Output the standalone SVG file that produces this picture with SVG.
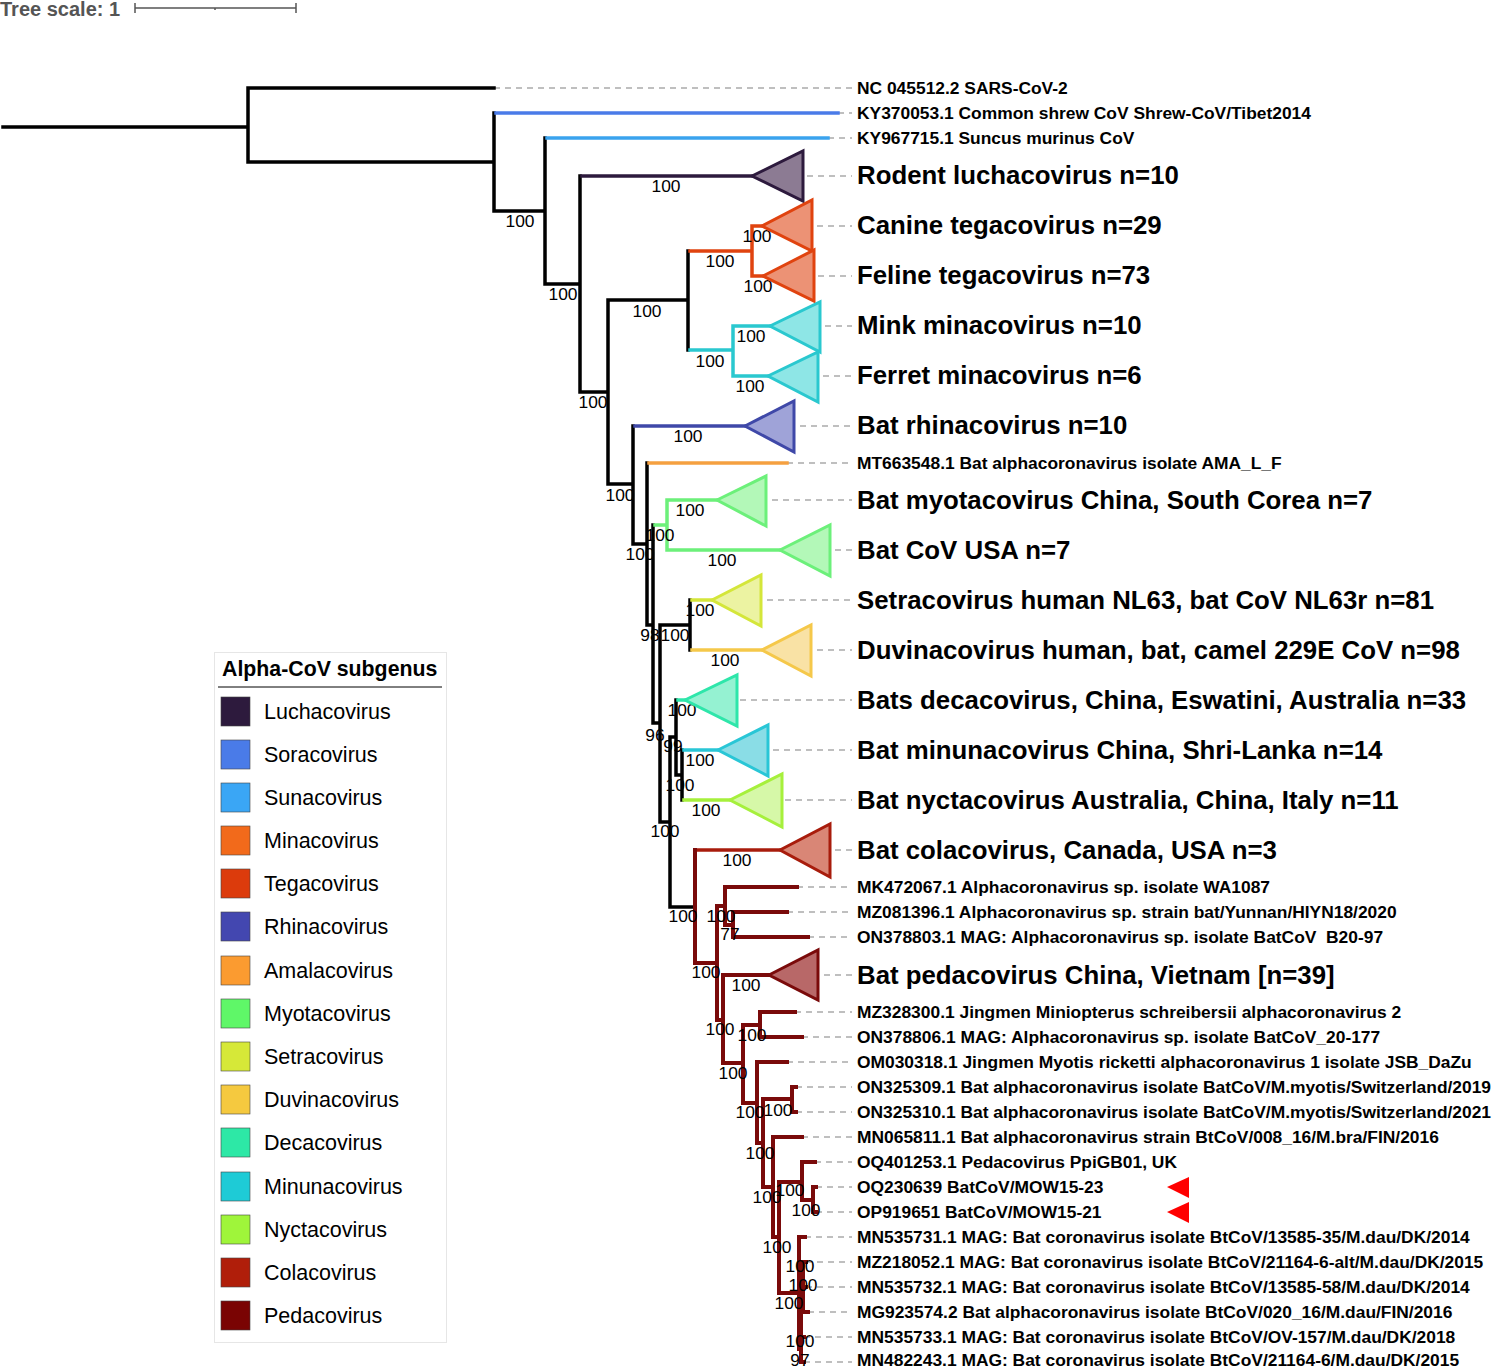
<svg xmlns="http://www.w3.org/2000/svg" width="1494" height="1368" viewBox="0 0 1494 1368">
<style>
.br{fill:none;stroke-width:3.5;stroke-linecap:square}
.k{stroke:#000}
.pd{stroke:#7a0a0a;stroke-width:4}
.dash{stroke:#aaa;stroke-width:1.5;stroke-dasharray:6 5;fill:none}
.lbl{font-family:"Liberation Sans",Arial,sans-serif;font-weight:bold;font-size:17.4px;fill:#000}
.big{font-size:25.8px}
.bs{font-family:"Liberation Sans",Arial,sans-serif;font-size:17.4px;fill:#000;text-anchor:middle}
.tri{stroke-width:3}
.lg{font-family:"Liberation Sans",Arial,sans-serif;font-size:21.5px;fill:#000}
.sq{stroke:#444;stroke-width:0.6}
</style>
<rect width="1494" height="1368" fill="#fff"/>

<g id="tree-scale">
<text x="0" y="16" font-family="Liberation Sans, Arial, sans-serif" font-weight="bold" font-size="20" fill="#555">Tree scale: 1</text>
<path d="M135,8 H296 M135,3 V13 M296,3 V13 M215,8 V10" stroke="#555" stroke-width="1.5" fill="none"/>
</g>

<g id="dashes">
<path class="dash" d="M494,88H852 M838,113H852 M828,138H852 M752,176H852 M762,226H852 M763,276H852 M770,326H852 M768,376H852 M745,426H852 M787,463H852 M717,500H852 M780,550H852 M712,600H852 M762,650H852 M685,700H852 M718,750H852 M730,800H852 M780,850H852 M797,887H852 M787,912H852 M808,937H852 M769,975H852 M795,1012H852 M802,1037H852 M787,1062H852 M796,1087H852 M796,1112H852 M802,1137H852 M815,1162H852 M816,1187H852 M816,1212H852 M805,1237H852 M806,1262H852 M806,1287H852 M808,1312H852 M804,1337H852 M804,1362H852"/>
</g>

<g id="connectors">
<path class="br k" d="M3,127H248 M248,88V162 M248,88H494 M248,162H494 M494,113V211 M494,211H545 M545,138V284 M545,284H580 M580,176V392 M580,392H608 M608,300V484 M608,300H688 M688,251V350 M608,484H633 M633,426V544 M633,544H647 M647,463V625 M647,625H653 M653,525V723 M653,723H660 M660,625V822 M660,625H690 M690,600V650 M660,822H670 M670,737V907 M670,737H676 M676,700V775 M676,775H682 M682,750V800 M670,907H693"/>
<path class="br" style="stroke:#4a7be8" d="M496,113H838"/>
<path class="br" style="stroke:#3aa3ee" d="M547,138H828"/>
<path class="br" style="stroke:#2d1a3d" d="M582,176H752"/>
<path class="br" style="stroke:#e0430f" d="M690,251H752 M752,226V276 M752,226H762 M752,276H763"/>
<path class="br" style="stroke:#2ac8cf" d="M690,350H733 M733,326V376 M733,326H770 M733,376H768"/>
<path class="br" style="stroke:#3f48a8" d="M635,426H745"/>
<path class="br" style="stroke:#f5a040" d="M649,463H787"/>
<path class="br" style="stroke:#6cf07a" d="M655,525H667 M667,500V550 M667,500H717 M667,550H780"/>
<path class="br" style="stroke:#d4e63a" d="M692,600H712"/>
<path class="br" style="stroke:#f5c84a" d="M692,650H762"/>
<path class="br" style="stroke:#2ee6aa" d="M678,700H685"/>
<path class="br" style="stroke:#29c6d6" d="M684,750H718"/>
<path class="br" style="stroke:#a6f03c" d="M684,800H730"/>
<path class="br" style="stroke:#a81c0c" d="M697,850H780"/>
<path class="br pd" d="M695,850V963 M695,963H717 M717,906V1020 M717,906H725 M725,887V925 M725,887H797 M725,925H733 M733,912V937 M733,912H787 M733,937H808 M717,1020H723 M723,975V1063 M723,975H769 M723,1063H743 M743,1025V1103 M743,1025H760 M760,1012V1037 M760,1012H795 M760,1037H802 M743,1103H757 M757,1062V1143 M757,1062H787 M757,1143H763 M763,1099V1187 M763,1099H792 M792,1087V1112 M792,1087H796 M792,1112H796 M763,1187H773 M773,1137V1237 M773,1137H802 M773,1237H779 M779,1182V1293 M779,1182H802 M802,1162V1200 M802,1162H815 M802,1200H813 M813,1187V1212 M813,1187H816 M813,1212H816 M779,1293H799 M799,1237V1349 M799,1237H805 M803,1262V1312 M799,1287H803 M803,1262H806 M803,1287H806 M803,1312H808 M801,1312V1362 M801,1337H804 M801,1362H804"/>
</g>

<g id="bootstrap">
<text class="bs" x="520" y="227">100</text>
<text class="bs" x="563" y="300">100</text>
<text class="bs" x="666" y="192">100</text>
<text class="bs" x="757" y="242">100</text>
<text class="bs" x="720" y="267">100</text>
<text class="bs" x="758" y="292">100</text>
<text class="bs" x="647" y="317">100</text>
<text class="bs" x="751" y="342">100</text>
<text class="bs" x="710" y="367">100</text>
<text class="bs" x="750" y="392">100</text>
<text class="bs" x="593" y="408">100</text>
<text class="bs" x="688" y="442">100</text>
<text class="bs" x="620" y="501">100</text>
<text class="bs" x="690" y="516">100</text>
<text class="bs" x="660" y="541">100</text>
<text class="bs" x="640" y="560">100</text>
<text class="bs" x="722" y="566">100</text>
<text class="bs" x="700" y="616">100</text>
<text class="bs" x="650" y="641">98</text>
<text class="bs" x="675" y="641">100</text>
<text class="bs" x="725" y="666">100</text>
<text class="bs" x="682" y="716">100</text>
<text class="bs" x="655" y="741">96</text>
<text class="bs" x="673" y="752">99</text>
<text class="bs" x="700" y="766">100</text>
<text class="bs" x="680" y="791">100</text>
<text class="bs" x="706" y="816">100</text>
<text class="bs" x="665" y="837">100</text>
<text class="bs" x="737" y="866">100</text>
<text class="bs" x="683" y="922">100</text>
<text class="bs" x="721" y="922">100</text>
<text class="bs" x="730" y="940">77</text>
<text class="bs" x="706" y="978">100</text>
<text class="bs" x="746" y="991">100</text>
<text class="bs" x="720" y="1035">100</text>
<text class="bs" x="752" y="1041">100</text>
<text class="bs" x="733" y="1079">100</text>
<text class="bs" x="750" y="1118">100</text>
<text class="bs" x="778" y="1116">100</text>
<text class="bs" x="760" y="1159">100</text>
<text class="bs" x="767" y="1203">100</text>
<text class="bs" x="790" y="1196">100</text>
<text class="bs" x="806" y="1216">100</text>
<text class="bs" x="777" y="1253">100</text>
<text class="bs" x="800" y="1272">100</text>
<text class="bs" x="803" y="1291">100</text>
<text class="bs" x="789" y="1309">100</text>
<text class="bs" x="800" y="1347">100</text>
<text class="bs" x="800" y="1366">97</text>
</g>

<g id="leaf-NC045512"><text class="lbl" x="857" y="94">NC 045512.2 SARS-CoV-2</text></g>
<g id="leaf-KY370053"><text class="lbl" x="857" y="119">KY370053.1 Common shrew CoV Shrew-CoV/Tibet2014</text></g>
<g id="leaf-KY967715"><text class="lbl" x="857" y="144">KY967715.1 Suncus murinus CoV</text></g>
<g id="clade-rodent"><polygon class="tri" points="752,176 803,151 803,201" fill="#8c7b93" stroke="#2d1a3d"/><text class="lbl big" x="857" y="184">Rodent luchacovirus n=10</text></g>
<g id="clade-canine"><polygon class="tri" points="762,226 812,200 812,251" fill="#ec9275" stroke="#e0430f"/><text class="lbl big" x="857" y="234">Canine tegacovirus n=29</text></g>
<g id="clade-feline"><polygon class="tri" points="763,276 814,250 814,301" fill="#ec9275" stroke="#e0430f"/><text class="lbl big" x="857" y="284">Feline tegacovirus n=73</text></g>
<g id="clade-mink"><polygon class="tri" points="770,326 820,302 820,352" fill="#8ee6e6" stroke="#2ac8cf"/><text class="lbl big" x="857" y="334">Mink minacovirus n=10</text></g>
<g id="clade-ferret"><polygon class="tri" points="768,376 818,352 818,402" fill="#8ee6e6" stroke="#2ac8cf"/><text class="lbl big" x="857" y="384">Ferret minacovirus n=6</text></g>
<g id="clade-rhina"><polygon class="tri" points="745,426 794,401 794,452" fill="#9fa3d8" stroke="#3f48a8"/><text class="lbl big" x="857" y="434">Bat rhinacovirus n=10</text></g>
<g id="leaf-MT663548"><text class="lbl" x="857" y="469">MT663548.1 Bat alphacoronavirus isolate AMA_L_F</text></g>
<g id="clade-myota"><polygon class="tri" points="717,500 766,476 766,526" fill="#b3f8b8" stroke="#6cf07a"/><text class="lbl big" x="857" y="509">Bat myotacovirus China, South Corea n=7</text></g>
<g id="clade-usa"><polygon class="tri" points="780,550 830,525 830,576" fill="#b3f8b8" stroke="#6cf07a"/><text class="lbl big" x="857" y="559">Bat CoV USA n=7</text></g>
<g id="clade-setra"><polygon class="tri" points="712,600 761,575 761,626" fill="#ecf3a2" stroke="#d4e63a"/><text class="lbl big" x="857" y="609">Setracovirus human NL63, bat CoV NL63r n=81</text></g>
<g id="clade-duvina"><polygon class="tri" points="762,650 811,625 811,676" fill="#f9e2a5" stroke="#f5c84a"/><text class="lbl big" x="857" y="659">Duvinacovirus human, bat, camel 229E CoV n=98</text></g>
<g id="clade-deca"><polygon class="tri" points="685,700 737,675 737,726" fill="#95f2d2" stroke="#2ee6aa"/><text class="lbl big" x="857" y="709">Bats decacovirus, China, Eswatini, Australia n=33</text></g>
<g id="clade-minuna"><polygon class="tri" points="718,750 768,725 768,776" fill="#8adde6" stroke="#29c6d6"/><text class="lbl big" x="857" y="759">Bat minunacovirus China, Shri-Lanka n=14</text></g>
<g id="clade-nycta"><polygon class="tri" points="730,800 782,774 782,827" fill="#d6f8a8" stroke="#a6f03c"/><text class="lbl big" x="857" y="809">Bat nyctacovirus Australia, China, Italy n=11</text></g>
<g id="clade-cola"><polygon class="tri" points="780,850 830,824 830,877" fill="#d98676" stroke="#a81c0c"/><text class="lbl big" x="857" y="859">Bat colacovirus, Canada, USA n=3</text></g>
<g id="leaf-MK472067"><text class="lbl" x="857" y="893">MK472067.1 Alphacoronavirus sp. isolate WA1087</text></g>
<g id="leaf-MZ081396"><text class="lbl" x="857" y="918">MZ081396.1 Alphacoronavirus sp. strain bat/Yunnan/HIYN18/2020</text></g>
<g id="leaf-ON378803"><text class="lbl" x="857" y="943" xml:space="preserve">ON378803.1 MAG: Alphacoronavirus sp. isolate BatCoV  B20-97</text></g>
<g id="clade-peda"><polygon class="tri" points="769,975 818,950 818,1000" fill="#b86868" stroke="#7a0a0a"/><text class="lbl big" x="857" y="984">Bat pedacovirus China, Vietnam [n=39]</text></g>
<g id="leaf-MZ328300"><text class="lbl" x="857" y="1018">MZ328300.1 Jingmen Miniopterus schreibersii alphacoronavirus 2</text></g>
<g id="leaf-ON378806"><text class="lbl" x="857" y="1043">ON378806.1 MAG: Alphacoronavirus sp. isolate BatCoV_20-177</text></g>
<g id="leaf-OM030318"><text class="lbl" x="857" y="1068">OM030318.1 Jingmen Myotis ricketti alphacoronavirus 1 isolate JSB_DaZu</text></g>
<g id="leaf-ON325309"><text class="lbl" x="857" y="1093">ON325309.1 Bat alphacoronavirus isolate BatCoV/M.myotis/Switzerland/2019</text></g>
<g id="leaf-ON325310"><text class="lbl" x="857" y="1118">ON325310.1 Bat alphacoronavirus isolate BatCoV/M.myotis/Switzerland/2021</text></g>
<g id="leaf-MN065811"><text class="lbl" x="857" y="1143">MN065811.1 Bat alphacoronavirus strain BtCoV/008_16/M.bra/FIN/2016</text></g>
<g id="leaf-OQ401253"><text class="lbl" x="857" y="1168">OQ401253.1 Pedacovirus PpiGB01, UK</text></g>
<g id="leaf-OQ230639"><text class="lbl" x="857" y="1193">OQ230639 BatCoV/MOW15-23</text><polygon points="1167,1187 1189,1177 1189,1198" fill="#ff0000"/></g>
<g id="leaf-OP919651"><text class="lbl" x="857" y="1218">OP919651 BatCoV/MOW15-21</text><polygon points="1167,1212 1189,1202 1189,1223" fill="#ff0000"/></g>
<g id="leaf-MN535731"><text class="lbl" x="857" y="1243">MN535731.1 MAG: Bat coronavirus isolate BtCoV/13585-35/M.dau/DK/2014</text></g>
<g id="leaf-MZ218052"><text class="lbl" x="857" y="1268">MZ218052.1 MAG: Bat coronavirus isolate BtCoV/21164-6-alt/M.dau/DK/2015</text></g>
<g id="leaf-MN535732"><text class="lbl" x="857" y="1293">MN535732.1 MAG: Bat coronavirus isolate BtCoV/13585-58/M.dau/DK/2014</text></g>
<g id="leaf-MG923574"><text class="lbl" x="857" y="1318">MG923574.2 Bat alphacoronavirus isolate BtCoV/020_16/M.dau/FIN/2016</text></g>
<g id="leaf-MN535733"><text class="lbl" x="857" y="1343">MN535733.1 MAG: Bat coronavirus isolate BtCoV/OV-157/M.dau/DK/2018</text></g>
<g id="leaf-MN482243"><text class="lbl" x="857" y="1366">MN482243.1 MAG: Bat coronavirus isolate BtCoV/21164-6/M.dau/DK/2015</text></g>

<g id="legend">
<rect x="214.5" y="652.5" width="232" height="690" fill="#fff" stroke="#e6e6e6" stroke-width="1"/>
<text x="222" y="676" font-family="Liberation Sans, Arial, sans-serif" font-weight="bold" font-size="21.3" fill="#000">Alpha-CoV subgenus</text>
<line x1="218" y1="687" x2="442" y2="687" stroke="#000" stroke-width="1"/>
<rect class="sq" x="221" y="697" width="29" height="29" fill="#2d1a3d"/><text class="lg" x="264" y="719">Luchacovirus</text>
<rect class="sq" x="221" y="740" width="29" height="29" fill="#4a7be8"/><text class="lg" x="264" y="762">Soracovirus</text>
<rect class="sq" x="221" y="783" width="29" height="29" fill="#3aa6f5"/><text class="lg" x="264" y="805">Sunacovirus</text>
<rect class="sq" x="221" y="826" width="29" height="29" fill="#f26a1b"/><text class="lg" x="264" y="848">Minacovirus</text>
<rect class="sq" x="221" y="869" width="29" height="29" fill="#dc3b0c"/><text class="lg" x="264" y="891">Tegacovirus</text>
<rect class="sq" x="221" y="912" width="29" height="29" fill="#4347b0"/><text class="lg" x="264" y="934">Rhinacovirus</text>
<rect class="sq" x="221" y="956" width="29" height="29" fill="#fb9b30"/><text class="lg" x="264" y="978">Amalacovirus</text>
<rect class="sq" x="221" y="999" width="29" height="29" fill="#5ff768"/><text class="lg" x="264" y="1021">Myotacovirus</text>
<rect class="sq" x="221" y="1042" width="29" height="29" fill="#d6e838"/><text class="lg" x="264" y="1064">Setracovirus</text>
<rect class="sq" x="221" y="1085" width="29" height="29" fill="#f5c93f"/><text class="lg" x="264" y="1107">Duvinacovirus</text>
<rect class="sq" x="221" y="1128" width="29" height="29" fill="#2de8a6"/><text class="lg" x="264" y="1150">Decacovirus</text>
<rect class="sq" x="221" y="1172" width="29" height="29" fill="#1ecbd6"/><text class="lg" x="264" y="1194">Minunacovirus</text>
<rect class="sq" x="221" y="1215" width="29" height="29" fill="#9ff53a"/><text class="lg" x="264" y="1237">Nyctacovirus</text>
<rect class="sq" x="221" y="1258" width="29" height="29" fill="#b01e0a"/><text class="lg" x="264" y="1280">Colacovirus</text>
<rect class="sq" x="221" y="1301" width="29" height="29" fill="#7a0403"/><text class="lg" x="264" y="1323">Pedacovirus</text>
</g>
</svg>
